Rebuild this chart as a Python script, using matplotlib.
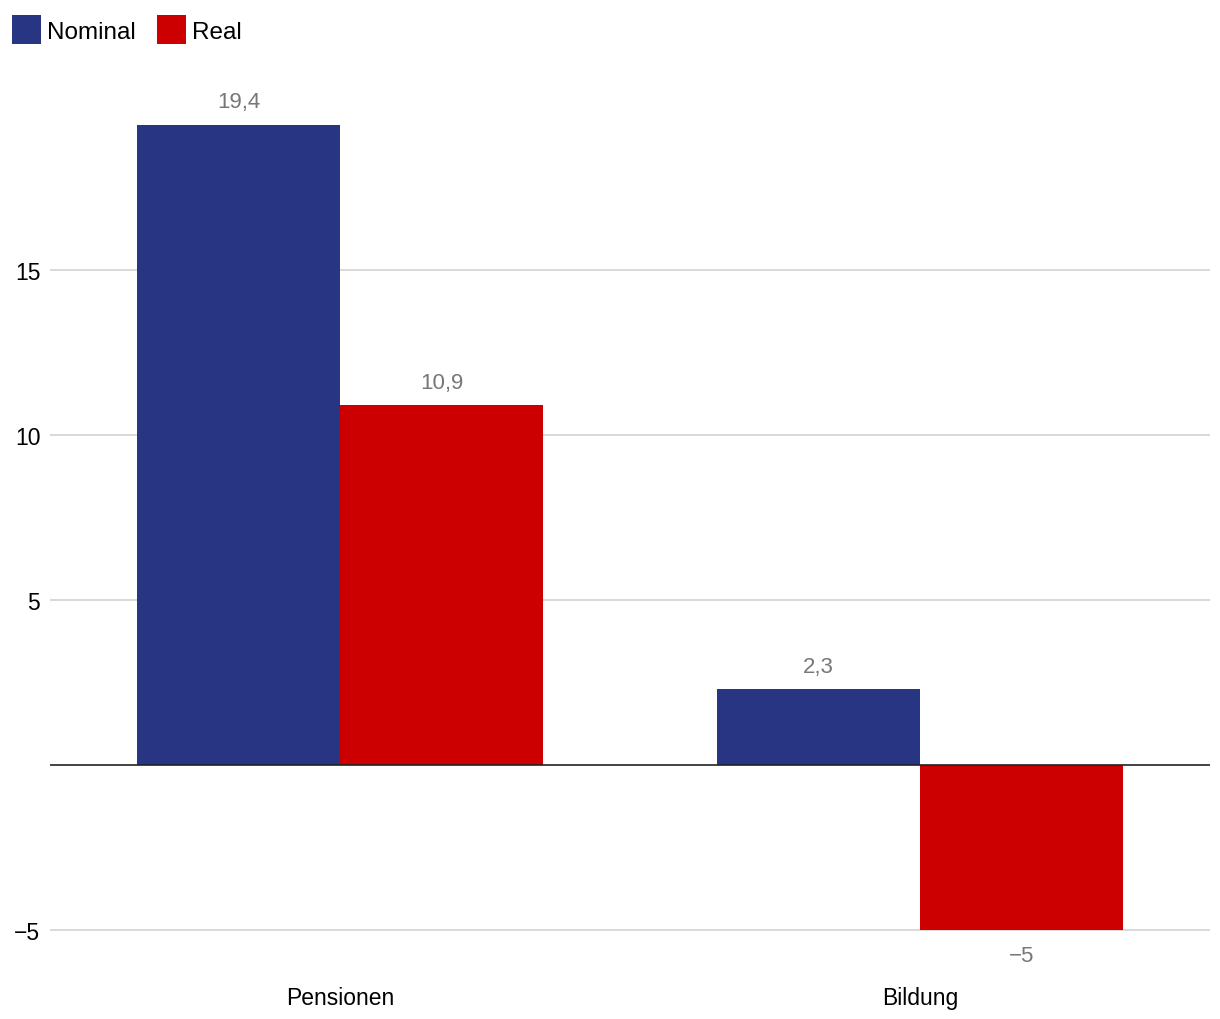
import matplotlib.pyplot as plt
import numpy as np

plt.rcParams['font.family'] = ['Liberation Sans', 'DejaVu Sans']

categories = ['Pensionen', 'Bildung']
series = ['Nominal', 'Real']
nominal = [19.4, 2.3]
real = [10.9, -5.0]
colors = ['#283583', '#cc0000']
yticks = [-5, 5, 10, 15]


def fmt(v):
    s = ('%.1f' % v).replace('.', ',')
    if s.endswith(',0'):
        s = s[:-2]
    return s.replace('-', '\u2212')


fig = plt.figure(figsize=(12.2, 10.2), dpi=100)
ax = fig.add_axes([50 / 1220, 59 / 1020, 1160 / 1220, 870 / 1020])

x = np.arange(len(categories))
w = 0.35
for i, (vals, name) in enumerate(zip([nominal, real], series)):
    pos = x - w / 2 + i * w
    ax.bar(pos, vals, width=w, color=colors[i], label=name, zorder=2)
    for p, v in zip(pos, vals):
        off = 9 if v >= 0 else -11
        ax.annotate(fmt(v), (p, v), xytext=(0, off), textcoords='offset points',
                    ha='center', va='bottom' if v >= 0 else 'top',
                    fontsize=16, color='#777777')

ax.set_xlim(-0.5, 1.5)
ax.set_ylim(-5.91, 20.45)
ax.set_yticks(yticks)
ax.set_yticklabels([fmt(t) for t in yticks])
ax.set_xticks(x)
ax.set_xticklabels(categories)
ax.tick_params(axis='y', length=0, pad=7, labelsize=16.5)
ax.tick_params(axis='x', length=0, pad=19, labelsize=16.5)
ax.grid(axis='y', color='#d6d6d6', linewidth=1.3, zorder=0)
ax.axhline(0, color='#222222', linewidth=1.2, zorder=3)
for s in ax.spines.values():
    s.set_visible(False)

fig.legend(loc='upper left', bbox_to_anchor=(-0.001, 0.997), ncol=2, frameon=False,
           fontsize=17.5, handlelength=1.2, handleheight=1.4, handletextpad=0.25,
           columnspacing=0.85, borderaxespad=0.2, borderpad=0.35)

fig.savefig('out.png', dpi=100)
